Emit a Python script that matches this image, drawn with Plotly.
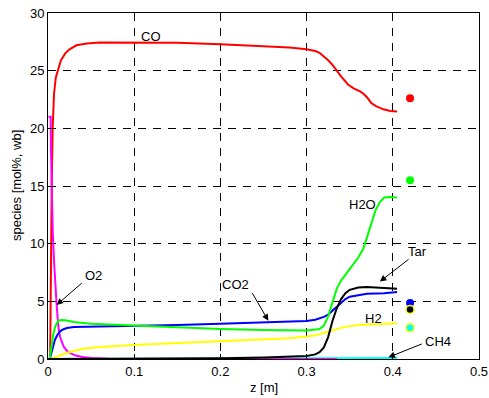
import plotly.graph_objects as go

# ---- data ----
z_co = [0.0025, 0.003, 0.0035, 0.0043, 0.0054, 0.007, 0.009, 0.012, 0.015, 0.02, 0.025, 0.033, 0.045, 0.06,
        0.1, 0.15, 0.2, 0.25, 0.28, 0.30, 0.31, 0.315, 0.32, 0.325, 0.33, 0.335, 0.34, 0.348, 0.355, 0.362,
        0.366, 0.37, 0.375, 0.38, 0.389, 0.397, 0.405]
co = [0, 5, 10, 15, 20, 23, 24.4, 25.2, 25.9, 26.5, 26.85, 27.2, 27.35, 27.45,
      27.45, 27.42, 27.3, 27.15, 27.0, 26.85, 26.7, 26.55, 26.25, 25.9, 25.5, 24.95, 24.5, 23.8, 23.45, 23.2,
      23.0, 22.7, 22.2, 21.95, 21.65, 21.5, 21.45]

z_co2 = [0.002, 0.004, 0.006, 0.008, 0.011, 0.014, 0.018, 0.022, 0.03, 0.05, 0.1, 0.15, 0.2, 0.25, 0.29,
         0.30, 0.31, 0.315, 0.32, 0.325, 0.33, 0.335, 0.34, 0.345, 0.35, 0.36, 0.37, 0.38, 0.39, 0.405]
co2 = [0, 0.6, 1.2, 1.65, 2.1, 2.4, 2.58, 2.68, 2.77, 2.8, 2.82, 2.95, 3.05, 3.15, 3.25,
       3.3, 3.4, 3.5, 3.65, 3.85, 4.2, 4.55, 4.9, 5.2, 5.4, 5.55, 5.65, 5.68, 5.7, 5.8]

z_h2o = [0.002, 0.004, 0.006, 0.008, 0.010, 0.012, 0.015, 0.02, 0.03, 0.05, 0.08, 0.1, 0.15, 0.2, 0.25, 0.3,
         0.315, 0.32, 0.325, 0.33, 0.335, 0.34, 0.345, 0.35, 0.355, 0.36, 0.366, 0.37, 0.375, 0.38, 0.385,
         0.39, 0.395, 0.405]
h2o = [0, 1.2, 2.1, 2.7, 3.1, 3.3, 3.38, 3.35, 3.2, 3.05, 2.95, 2.88, 2.75, 2.6, 2.52, 2.48,
       2.6, 2.9, 3.7, 5.0, 6.1, 6.8, 7.3, 7.8, 8.3, 8.8, 9.6, 10.6, 11.7, 12.9, 13.6,
       14.0, 14.05, 14.0]

z_h2 = [0.004, 0.008, 0.012, 0.02, 0.03, 0.04, 0.06, 0.08, 0.1, 0.15, 0.2, 0.22, 0.25, 0.28, 0.3, 0.31,
        0.32, 0.33, 0.34, 0.35, 0.36, 0.38, 0.405]
h2 = [0, 0.1, 0.25, 0.5, 0.72, 0.88, 1.05, 1.15, 1.22, 1.38, 1.52, 1.58, 1.68, 1.8, 1.95, 2.05,
      2.25, 2.5, 2.7, 2.85, 2.95, 3.02, 3.1]

z_ch4 = [0.0, 0.1, 0.2, 0.3, 0.335, 0.36, 0.38, 0.405]
ch4 = [0.0, 0.01, 0.02, 0.03, 0.05, 0.06, 0.07, 0.08]

z_o2 = [0.0005, 0.003, 0.0035, 0.0045, 0.0055, 0.007, 0.008, 0.009, 0.010, 0.012, 0.014, 0.018, 0.022,
        0.026, 0.032, 0.04, 0.05, 0.07, 0.1, 0.335]
o2 = [21, 21, 18, 14, 11, 8.5, 7, 5.8, 4.7, 2.8, 1.9, 1.1, 0.7, 0.5, 0.3, 0.18, 0.08, 0.02, 0, 0]

z_tar = [0.0, 0.1, 0.15, 0.2, 0.25, 0.28, 0.3, 0.31, 0.315, 0.32, 0.325, 0.33, 0.335, 0.34, 0.345, 0.35,
         0.36, 0.37, 0.38, 0.39, 0.405]
tar = [0, 0.0, 0.02, 0.06, 0.12, 0.18, 0.26, 0.4, 0.6, 1.0, 1.9, 3.3, 4.4, 5.2, 5.7, 6.0,
       6.2, 6.25, 6.22, 6.15, 6.1]

# measured outlet values (dots)
z_meas = 0.42
meas_co, meas_h2o, meas_co2, meas_tar, meas_ch4 = 22.6, 15.5, 4.85, 4.3, 2.7

x_ticks = [0, 0.1, 0.2, 0.3, 0.4, 0.5]
x_tick_labels = ["0", "0.1", "0.2", "0.3", "0.4", "0.5"]
y_ticks = [0, 5, 10, 15, 20, 25, 30]

FONT = "Liberation Sans, Arial, Helvetica, sans-serif"

fig = go.Figure()

def line(x, y, color):
    fig.add_trace(go.Scatter(x=x, y=y, mode="lines", line=dict(color=color, width=2),
                             showlegend=False, hoverinfo="skip", cliponaxis=False))

line(z_co, co, "#FF0000")
line(z_ch4, ch4, "#00FFFF")
line(z_o2, o2, "#FF00FF")
line(z_co2, co2, "#0000FF")
line(z_h2o, h2o, "#00FF00")
line(z_h2, h2, "#FFFF00")
line(z_tar, tar, "#000000")

def dot(y, color, edge=None, size=8):
    fig.add_trace(go.Scatter(x=[z_meas], y=[y], mode="markers",
                             marker=dict(color=color, size=size,
                                         line=dict(color=edge or color, width=1.5 if edge else 0)),
                             showlegend=False, hoverinfo="skip"))

dot(meas_co, "#FF0000")
dot(meas_h2o, "#00FF00")
dot(meas_co2, "#0000FF")
dot(meas_tar, "#000000", "#FFFF00")
dot(meas_ch4, "#00FFFF", "#FFFF00")

labels = [("CO", 0.1195, 28.0), ("O2", 0.0526, 7.2), ("CO2", 0.218, 6.5), ("H2O", 0.3654, 13.37),
          ("Tar", 0.429, 9.33), ("H2", 0.378, 3.5), ("CH4", 0.4524, 1.56)]
annotations = []
for t, xx, yy in labels:
    annotations.append(dict(text=t, x=xx, y=yy, xref="x", yref="y", showarrow=False,
                            font=dict(family=FONT, size=13, color="black")))

arrows = [((0.041, 6.7), (0.010, 4.69)),
          ((0.236, 5.84), (0.2556, 3.32)),
          ((0.42, 8.74), (0.385, 6.71)),
          ((0.4355, 1.36), (0.395, 0.15))]
for (tx, ty), (hx, hy) in arrows:
    annotations.append(dict(text="", x=hx, y=hy, ax=tx, ay=ty, xref="x", yref="y",
                            axref="x", ayref="y", showarrow=True, arrowhead=2,
                            arrowsize=1.3, arrowwidth=1, arrowcolor="black", standoff=0))

# axis titles placed explicitly
annotations.append(dict(text="species [mol%, wb]", x=-32 / 431, y=0.5, xref="paper", yref="paper",
                        xanchor="center", yanchor="middle", showarrow=False, textangle=-90,
                        font=dict(family=FONT, size=13, color="black")))
annotations.append(dict(text="z [m]", x=0.5, y=-28 / 346, xref="paper", yref="paper",
                        xanchor="center", yanchor="middle", showarrow=False,
                        font=dict(family=FONT, size=13, color="black")))

fig.update_layout(
    width=489, height=398,
    margin=dict(l=48, r=10, t=13, b=39, autoexpand=False),
    paper_bgcolor="white", plot_bgcolor="white",
    font=dict(family=FONT, size=13, color="black"),
    annotations=annotations,
    xaxis=dict(range=[0, 0.5], tickvals=x_ticks, ticktext=x_tick_labels, automargin=False,
               showgrid=True, gridcolor="black", griddash="8px,7px", gridwidth=1,
               showline=True, linecolor="black", linewidth=1, mirror=True,
               ticks="inside", ticklen=5, tickcolor="black", zeroline=False),
    yaxis=dict(range=[0, 30], tickvals=y_ticks, automargin=False,
               showgrid=True, gridcolor="black", griddash="8px,7px", gridwidth=1,
               showline=True, linecolor="black", linewidth=1, mirror=True,
               ticks="inside", ticklen=5, tickcolor="black", zeroline=False),
)

fig.write_html("out.html", config={"displayModeBar": False},
               post_script="document.body.style.margin='0';document.body.style.padding='0';")
